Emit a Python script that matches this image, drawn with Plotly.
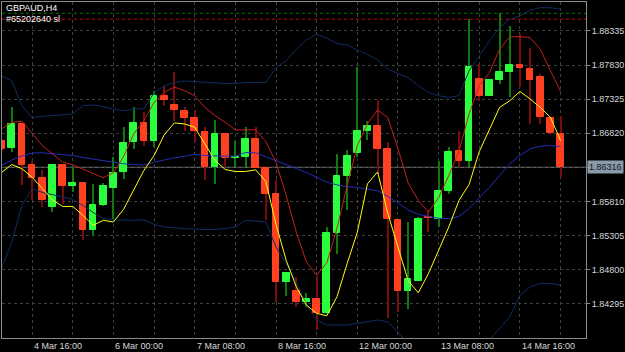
import plotly.graph_objects as go
import pandas as pd

symbol_title = "GBPAUD,H4"
order_label = "#65202640 sl"
first_bar = "2024-03-04 04:00"

opens = [1.86712, 1.86598, 1.86952, 1.86343, 1.86151, 1.85727, 1.86357, 1.86043, 1.86077, 1.85394,
         1.85757, 1.86008, 1.86244, 1.86697, 1.86977, 1.86712, 1.87365, 1.87233, 1.87154, 1.87041,
         1.86844, 1.86317, 1.86811, 1.86456, 1.86465, 1.86737, 1.86303, 1.85925, 1.84611, 1.84483,
         1.84325, 1.84369, 1.84154, 1.85349, 1.86185, 1.86530, 1.86859, 1.86929, 1.86583, 1.85541,
         1.84487, 1.84635, 1.85575, 1.85556, 1.85969, 1.86554, 1.86406, 1.87622, 1.87376, 1.87612,
         1.87726, 1.87833, 1.87774, 1.87652, 1.87051, 1.86815]
highs = [1.86726, 1.87213, 1.86963, 1.86416, 1.86269, 1.86372, 1.86365, 1.86317, 1.86092, 1.86073,
         1.86081, 1.86465, 1.86908, 1.87203, 1.87129, 1.87450, 1.87523, 1.87730, 1.87213, 1.87165,
         1.86908, 1.87022, 1.86815, 1.86712, 1.86908, 1.86908, 1.86306, 1.86121, 1.84756, 1.84697,
         1.84449, 1.84704, 1.85432, 1.86515, 1.86574, 1.87794, 1.87007, 1.87312, 1.86687, 1.85541,
         1.85506, 1.85580, 1.85678, 1.86416, 1.86613, 1.86859, 1.88508, 1.87848, 1.87619, 1.88605,
         1.88409, 1.88287, 1.88089, 1.87696, 1.87081, 1.87081]
lows = [1.86564, 1.86539, 1.86047, 1.85826, 1.85727, 1.85649, 1.85767, 1.85949, 1.85236, 1.85309,
        1.85745, 1.85556, 1.86146, 1.86589, 1.86638, 1.86613, 1.87228, 1.87007, 1.86859, 1.86687,
        1.86121, 1.86073, 1.86317, 1.86317, 1.86317, 1.86306, 1.85531, 1.84325, 1.84416, 1.84251,
        1.84251, 1.83907, 1.84143, 1.85039, 1.85678, 1.86465, 1.86722, 1.86220, 1.84080, 1.84177,
        1.84213, 1.84630, 1.85358, 1.85432, 1.85925, 1.86317, 1.86317, 1.87302, 1.87368, 1.87549,
        1.87351, 1.87498, 1.86958, 1.86958, 1.86811, 1.86170]
closes = [1.86589, 1.86952, 1.86347, 1.86161, 1.85836, 1.86357, 1.86043, 1.86081, 1.85394, 1.85752,
          1.86033, 1.86239, 1.86682, 1.86977, 1.86712, 1.87365, 1.87317, 1.87159, 1.87041, 1.86849,
          1.86317, 1.86811, 1.86456, 1.86465, 1.86737, 1.86309, 1.85925, 1.84611, 1.84753, 1.84325,
          1.84369, 1.84154, 1.85343, 1.86180, 1.86486, 1.86855, 1.86929, 1.86583, 1.85546, 1.84487,
          1.84664, 1.85556, 1.85566, 1.85963, 1.86549, 1.86406, 1.87808, 1.87376, 1.87612, 1.87726,
          1.87833, 1.87779, 1.87608, 1.87056, 1.86819, 1.86316]

ma_yellow = [1.86239, 1.86357, 1.86294, 1.86170, 1.86003, 1.85833, 1.85737, 1.85737, 1.85605, 1.85457,
             1.85531, 1.85506, 1.85693, 1.85974, 1.86269, 1.86490, 1.86796, 1.86973, 1.86958, 1.86908,
             1.86663, 1.86416, 1.86284, 1.86254, 1.86254, 1.86279, 1.86106, 1.85472, 1.84940, 1.84546,
             1.84276, 1.84154, 1.84118, 1.84399, 1.84892, 1.85354, 1.86073, 1.86247, 1.85634, 1.85118,
             1.84638, 1.84458, 1.84744, 1.85088, 1.85432, 1.85826, 1.86062, 1.86549, 1.86884, 1.87203,
             1.87302, 1.87439, 1.87327, 1.87203, 1.87056, 1.86712]
ma_red = [1.86884, 1.86982, 1.86997, 1.86811, 1.86638, 1.86515, 1.86394, 1.86353, 1.86294, 1.86225,
          1.86161, 1.86235, 1.86475, 1.86811, 1.87007, 1.87277, 1.87425, 1.87504, 1.87450, 1.87376,
          1.87203, 1.87081, 1.86982, 1.86870, 1.86870, 1.86870, 1.86697, 1.86387, 1.85900, 1.85354,
          1.84911, 1.84719, 1.84904, 1.85413, 1.86047, 1.86638, 1.86958, 1.87165, 1.87051, 1.86594,
          1.86084, 1.85826, 1.85653, 1.85870, 1.86195, 1.86549, 1.87110, 1.87523, 1.87720, 1.88065,
          1.88247, 1.88251, 1.88236, 1.88065, 1.87745, 1.87439]
bb_mid = [1.86343, 1.86424, 1.86483, 1.86527, 1.86530, 1.86520, 1.86509, 1.86490, 1.86461, 1.86436,
          1.86409, 1.86387, 1.86368, 1.86357, 1.86350, 1.86391, 1.86427, 1.86456, 1.86480, 1.86505,
          1.86490, 1.86480, 1.86480, 1.86480, 1.86535, 1.86530, 1.86475, 1.86416, 1.86357, 1.86298,
          1.86239, 1.86170, 1.86096, 1.86055, 1.86028, 1.86018, 1.85999, 1.85969, 1.85885, 1.85782,
          1.85686, 1.85619, 1.85585, 1.85560, 1.85556, 1.85590, 1.85708, 1.85856, 1.86018, 1.86195,
          1.86368, 1.86490, 1.86589, 1.86628, 1.86638, 1.86623]
bb_upper = [1.87671, 1.87597, 1.87228, 1.87051, 1.87070, 1.87081, 1.87095, 1.87106, 1.87228, 1.87239,
            1.87213, 1.87177, 1.87154, 1.87177, 1.87184, 1.87420, 1.87523, 1.87572, 1.87593, 1.87582,
            1.87572, 1.87563, 1.87557, 1.87557, 1.87572, 1.87572, 1.87572, 1.87794, 1.87892, 1.88065,
            1.88198, 1.88287, 1.88227, 1.88148, 1.88129, 1.88050, 1.87991, 1.87903, 1.87770, 1.87705,
            1.87646, 1.87523, 1.87425, 1.87376, 1.87351, 1.87376, 1.87745, 1.87966, 1.88188, 1.88384,
            1.88508, 1.88557, 1.88641, 1.88679, 1.88679, 1.88656]
bb_lower = [1.84822, 1.85206, 1.85752, 1.85999, 1.85944, 1.85915, 1.85878, 1.85841, 1.85752, 1.85649,
            1.85560, 1.85538, 1.85531, 1.85531, 1.85538, 1.85472, 1.85432, 1.85417, 1.85408, 1.85402,
            1.85394, 1.85398, 1.85408, 1.85432, 1.85531, 1.85521, 1.85506, 1.85137, 1.84892, 1.84616,
            1.84276, 1.84055, 1.83981, 1.83981, 1.83981, 1.84006, 1.84030, 1.84055, 1.84030, 1.83878,
            1.83686, 1.83583, 1.83523, 1.83494, 1.83494, 1.83523, 1.83583, 1.83642, 1.83760, 1.83932,
            1.84104, 1.84424, 1.84546, 1.84597, 1.84597, 1.84571]

y_ticks = [1.88335, 1.87830, 1.87325, 1.86820, 1.86315, 1.85810, 1.85305, 1.84800, 1.84295]
x_labels = ["4 Mar 16:00", "6 Mar 00:00", "7 Mar 08:00", "8 Mar 16:00",
            "12 Mar 00:00", "13 Mar 08:00", "14 Mar 16:00"]
bid_price = 1.86316
tp_level = 1.88596
sl_level = 1.88508

n = len(opens)
# trading-bar timestamps (H4, weekends skipped)
times = []
t = pd.Timestamp(first_bar)
while len(times) < n:
    if t.weekday() < 5:
        times.append(t)
    t += pd.Timedelta(hours=4)
time_text = [f"{tt.day} {tt:%b} {tt:%H:%M}" for tt in times]
idx = list(range(n))

FONT = "Liberation Sans, Arial, sans-serif"
GREEN_BODY = "#2bff3d"
RED_BODY = "#ff4121"
GREEN_WICK = "#0c7a0c"
RED_WICK = "#7a0c0c"

fig = go.Figure()

up = [i for i in idx if closes[i] >= opens[i]]
dn = [i for i in idx if closes[i] < opens[i]]

# wicks
for sel, col in ((up, GREEN_WICK), (dn, RED_WICK)):
    fig.add_trace(go.Bar(x=sel, base=[lows[i] for i in sel],
                         y=[highs[i] - lows[i] for i in sel],
                         width=0.1, marker=dict(color=col, line=dict(width=0)),
                         hoverinfo="skip", showlegend=False))
# bodies
for sel, col in ((up, GREEN_BODY), (dn, RED_BODY)):
    fig.add_trace(go.Bar(x=sel, base=[min(opens[i], closes[i]) for i in sel],
                         y=[abs(closes[i] - opens[i]) for i in sel],
                         width=0.66, marker=dict(color=col, line=dict(color=col, width=1)),
                         hoverinfo="skip", showlegend=False))

lines = [
    (bb_upper, "#0f2d5e"),
    (bb_lower, "#0f2d5e"),
    (bb_mid, "#1f2fb8"),
    (ma_red, "#c4201c"),
    (ma_yellow, "#ffff10"),
]
for vals, col in lines:
    fig.add_trace(go.Scatter(x=idx, y=vals, mode="lines", line=dict(color=col, width=1),
                             hoverinfo="skip", showlegend=False))

grid_idx = [i for i in idx if i % 4 == 3]

fig.update_layout(
    width=625, height=352,
    margin=dict(l=2, r=37, t=1, b=14),
    paper_bgcolor="#000000", plot_bgcolor="#000000",
    barmode="overlay", bargap=0,
    showlegend=False,
    font=dict(family=FONT, size=9, color="#d8d8d8"),
    xaxis=dict(range=[0.04, 57.5], tickvals=grid_idx, showticklabels=False,
               showgrid=True, gridcolor="#404040", griddash="3px,3px", gridwidth=1,
               showline=True, mirror=True, linecolor="#8a8a8a", linewidth=1,
               zeroline=False, ticks=""),
    yaxis=dict(range=[1.83789, 1.88763], side="right", tickvals=y_ticks,
               ticktext=["" if abs(v - bid_price) < 0.00003 else f"{v:.5f}" for v in y_ticks],
               showgrid=True, gridcolor="#404040", griddash="3px,3px", gridwidth=1,
               showline=True, mirror=True, linecolor="#8a8a8a", linewidth=1,
               zeroline=False, ticks="outside", ticklen=3, tickcolor="#8a8a8a",
               tickfont=dict(family=FONT, size=9, color="#d8d8d8")),
)

shapes = [
    dict(type="line", xref="paper", x0=0, x1=1, yref="y", y0=bid_price, y1=bid_price,
         line=dict(color="#7a7a7a", width=1), layer="below"),
    dict(type="line", xref="paper", x0=0, x1=1, yref="y", y0=tp_level, y1=tp_level,
         line=dict(color="#007a00", width=1, dash="3px,3px"), layer="below"),
    dict(type="line", xref="paper", x0=0, x1=1, yref="y", y0=sl_level, y1=sl_level,
         line=dict(color="#d00000", width=1, dash="3px,3px"), layer="below"),
]
fig.update_layout(shapes=shapes)

annotations = [
    dict(text=symbol_title, xref="paper", yref="paper", x=0, y=1, xanchor="left", yanchor="top",
         xshift=2, yshift=1, showarrow=False, font=dict(family=FONT, size=9, color="#ffffff")),
    dict(text=order_label, xref="paper", yref="paper", x=0, y=1, xanchor="left", yanchor="top",
         xshift=2, yshift=-10, showarrow=False, font=dict(family=FONT, size=9, color="#ffffff")),
    dict(text=f"{bid_price:.5f}", xref="paper", yref="y", x=1, y=bid_price, xanchor="left",
         yanchor="middle", xshift=1, showarrow=False, bgcolor="#8a99aa", borderpad=1,
         font=dict(family=FONT, size=9, color="#101820")),
]
for lab in x_labels:
    if lab in time_text:
        k = time_text.index(lab)
        annotations.append(dict(text=lab, xref="x", yref="paper", x=k, y=0, xanchor="left",
                                yanchor="top", xshift=0, yshift=-1, showarrow=False,
                                font=dict(family=FONT, size=9, color="#d8d8d8")))
fig.update_layout(annotations=annotations)

fig.write_html("out.html")
